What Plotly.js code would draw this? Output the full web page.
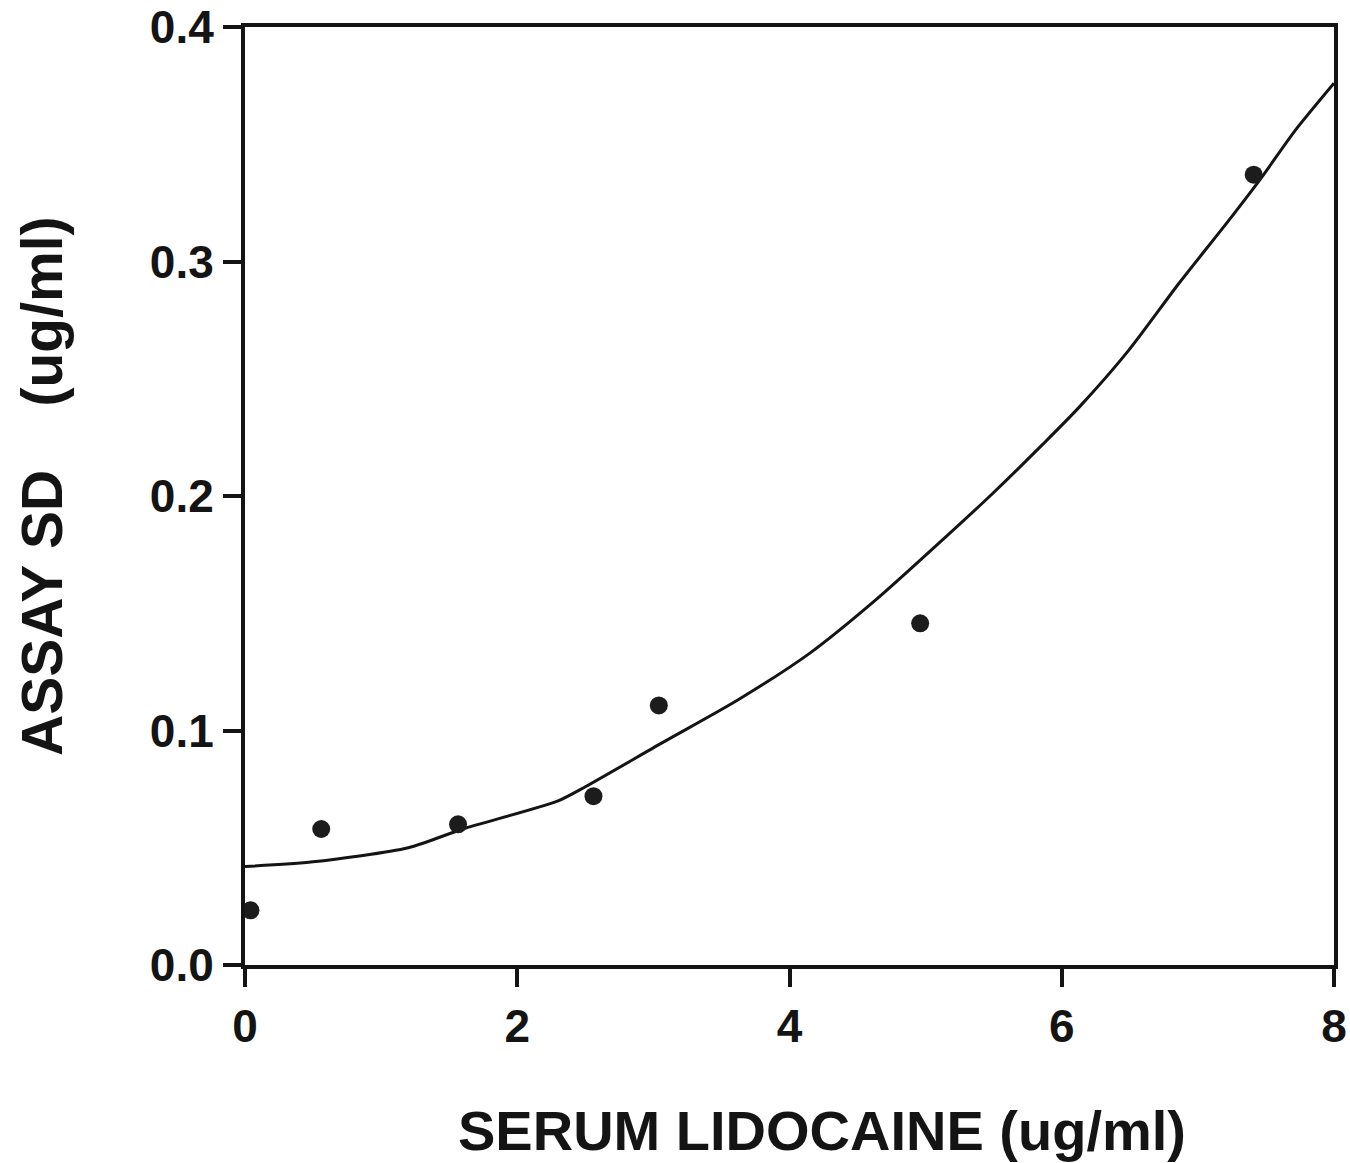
<!DOCTYPE html>
<html>
<head>
<meta charset="utf-8">
<script src="https://cdn.plot.ly/plotly-3.0.1.min.js"></script>
<style>html,body{margin:0;padding:0;background:#fff;overflow:hidden;}#chart{width:1350px;height:1163px;}</style>
</head>
<body>
<div id="chart"></div>
<script>
// Measured points
const pointX = [0.04, 0.56, 1.565, 2.56, 3.04, 4.96, 7.41];
const pointY = [0.0233, 0.058, 0.060, 0.072, 0.1107, 0.1457, 0.337];
// Fitted curve
const curveX = [0, 0.5, 1.2, 1.6, 2.3, 2.5, 3.06, 3.62, 4.15, 4.64, 5.13, 5.5, 5.86, 6.13, 6.49, 6.86, 7.22, 7.47, 7.71, 8.0];
const curveY = [0.042, 0.044, 0.050, 0.058, 0.070, 0.076, 0.0946, 0.113, 0.133, 0.156, 0.1816, 0.2015, 0.222, 0.238, 0.262, 0.2906, 0.317, 0.336, 0.3555, 0.376];
// Tick labels
const xTickVals = [0, 2, 4, 6, 8];
const xTickText = ['0', '2', '4', '6', '8'];
const yTickVals = [0, 0.1, 0.2, 0.3, 0.4];
const yTickText = ['0.0', '0.1', '0.2', '0.3', '0.4'];
const xTitle = 'SERUM LIDOCAINE (ug/ml)';
const yTitle = 'ASSAY\u00a0SD\u00a0\u00a0\u00a0\u00a0(ug/ml)';

const FONT = 'Liberation Sans, Arial, Helvetica, sans-serif';
const INK = '#141414';

const traces = [
  {
    x: curveX, y: curveY, type: 'scatter', mode: 'lines',
    line: {color: INK, width: 3, shape: 'spline', smoothing: 0.7}, hoverinfo: 'skip', cliponaxis: false
  },
  {
    x: pointX, y: pointY, type: 'scatter', mode: 'markers',
    marker: {color: '#1c1c1c', size: 18}, cliponaxis: false
  }
];

const axisCommon = {
  showline: true, linecolor: INK, linewidth: 4, mirror: true,
  ticks: 'outside', ticklen: 18, tickwidth: 4, tickcolor: INK,
  showgrid: false, zeroline: false, ticklabeloverflow: 'allow',
  tickfont: {family: FONT, size: 46, color: INK, weight: 'bold'}
};

const layout = {
  width: 1350, height: 1163,
  margin: {l: 245, r: 16, t: 27, b: 198},
  paper_bgcolor: '#fff', plot_bgcolor: '#fff',
  showlegend: false,
  xaxis: Object.assign({}, axisCommon, {
    range: [0, 8], tickmode: 'array', tickvals: xTickVals, ticktext: xTickText
  }),
  yaxis: Object.assign({}, axisCommon, {
    range: [0, 0.4], tickmode: 'array', tickvals: yTickVals, ticktext: yTickText
  }),
  annotations: [
    {
      text: xTitle, xref: 'paper', yref: 'paper', x: 0.53, y: -0.176,
      xanchor: 'center', yanchor: 'middle', showarrow: false,
      font: {family: FONT, size: 56, color: INK, weight: 'bold'}
    },
    {
      text: yTitle, xref: 'paper', yref: 'paper', x: -0.187, y: 0.51,
      xanchor: 'center', yanchor: 'middle', showarrow: false, textangle: -90,
      font: {family: FONT, size: 57, color: INK, weight: 'bold'}
    }
  ]
};

Plotly.newPlot('chart', traces, layout, {displayModeBar: false, staticPlot: true});
</script>
</body>
</html>
